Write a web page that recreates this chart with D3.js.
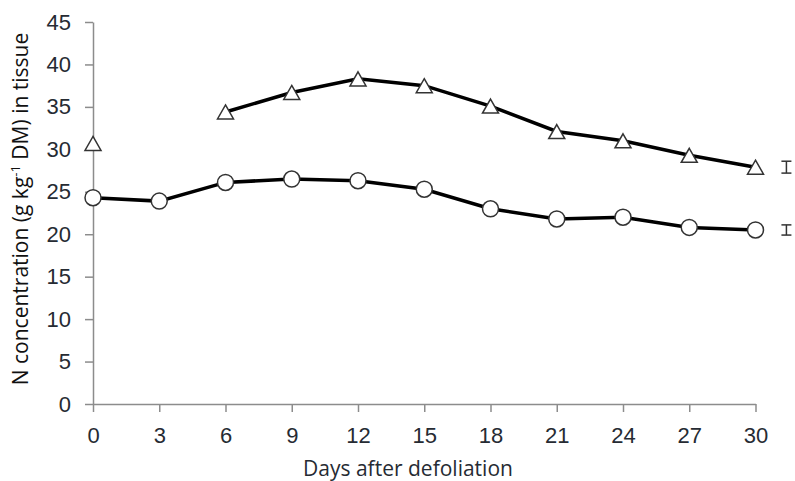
<!DOCTYPE html>
<html>
<head>
<meta charset="utf-8">
<script src="https://cdn.jsdelivr.net/npm/d3@7"></script>
<style>
  body { margin: 0; background: #fff; }
  svg { display: block; font-family: 'Open Sans', 'Noto Sans', sans-serif; }
</style>
</head>
<body>
<svg id="chart" width="795" height="481"></svg>
<script>
// Data
const days = [0, 3, 6, 9, 12, 15, 18, 21, 24, 27, 30];
const xTicks = [0, 3, 6, 9, 12, 15, 18, 21, 24, 27, 30];
const yTicks = [0, 5, 10, 15, 20, 25, 30, 35, 40, 45];
const circleValues = [24.3, 23.9, 26.1, 26.5, 26.3, 25.3, 23.0, 21.8, 22.0, 20.8, 20.5];
const triangleValues = [30.7, null, 34.4, 36.7, 38.3, 37.5, 35.1, 32.1, 31.0, 29.3, 27.9];
// LSD bars drawn to the right of the last day
const lsdDay = 31.4;
const lsdCenters = [27.9, 20.5];
const lsdHalf = [0.7, 0.6];

const dimensions = {
    width: 795,
    height: 481,
    margin: { top: 22, right: 40, bottom: 77, left: 93 },
};
const { width, height, margin } = dimensions;

const xScale = d3.scaleLinear()
    .domain([0, 30])
    .range([margin.left, 755.5]);

const yScale = d3.scaleLinear()
    .domain([0, 45])
    .range([height - margin.bottom, margin.top]);

const svg = d3.select('#chart');
const axisColor = '#8c8c8c';
const labelColor = '#262b33';

// X axis
const xAxisGroup = svg.append('g')
    .attr('transform', `translate(0, ${yScale(0)})`)
    .call(d3.axisBottom(xScale).tickValues(xTicks).tickSize(8).tickPadding(15).tickSizeOuter(0));
xAxisGroup.select('.domain').attr('stroke', axisColor).attr('stroke-width', 1.5);
xAxisGroup.selectAll('line').attr('stroke', axisColor).attr('stroke-width', 1.5);
xAxisGroup.selectAll('text')
    .attr('fill', labelColor)
    .attr('font-size', '22px');

// Y axis
const yAxisGroup = svg.append('g')
    .attr('transform', `translate(${xScale(0)}, 0)`)
    .call(d3.axisLeft(yScale).tickValues(yTicks).tickSize(8).tickPadding(14).tickSizeOuter(0));
yAxisGroup.select('.domain').attr('stroke', axisColor).attr('stroke-width', 1.5);
yAxisGroup.selectAll('line').attr('stroke', axisColor).attr('stroke-width', 1.5);
yAxisGroup.selectAll('text')
    .attr('fill', labelColor)
    .attr('font-size', '22px');

// Axis titles
svg.append('text')
    .attr('x', 408)
    .attr('y', 476)
    .attr('text-anchor', 'middle')
    .attr('fill', labelColor)
    .attr('font-size', '21px')
    .text('Days after defoliation');

const yTitle = svg.append('text')
    .attr('transform', 'translate(28, 209) rotate(-90)')
    .attr('text-anchor', 'middle')
    .attr('fill', '#111')
    .attr('font-size', '21px');
yTitle.append('tspan').text('N concentration (g kg');
yTitle.append('tspan').attr('dy', -8).attr('font-size', '13px').text('-1');
yTitle.append('tspan').attr('dy', 8).text(' DM) in tissue');

// Lines
const line = d3.line()
    .defined((d) => d.value !== null)
    .x((d) => xScale(d.day))
    .y((d) => yScale(d.value));

const circleData = days.map((day, i) => ({ day, value: circleValues[i] }));
const triangleData = days.map((day, i) => ({ day, value: triangleValues[i] }));

// Triangle line starts from day 6 (day 0 value stands alone)
svg.append('path')
    .attr('d', line(triangleData.filter((d) => d.day >= 6)))
    .attr('fill', 'none')
    .attr('stroke', '#000')
    .attr('stroke-width', 3.5);

svg.append('path')
    .attr('d', line(circleData))
    .attr('fill', 'none')
    .attr('stroke', '#000')
    .attr('stroke-width', 3.5);

// Markers
svg.append('g')
    .selectAll('path')
    .data(triangleData.filter((d) => d.value !== null))
    .join('path')
    .attr('transform', (d) => `translate(${xScale(d.day)}, ${yScale(d.value)})`)
    .attr('d', 'M0,-7L8,7L-8,7Z')
    .attr('fill', '#fff')
    .attr('stroke', '#333')
    .attr('stroke-width', 1.5);

svg.append('g')
    .selectAll('circle')
    .data(circleData)
    .join('circle')
    .attr('cx', (d) => xScale(d.day))
    .attr('cy', (d) => yScale(d.value))
    .attr('r', 8)
    .attr('fill', '#fff')
    .attr('stroke', '#333')
    .attr('stroke-width', 1.5);

// LSD bars
const lsd = svg.append('g')
    .attr('stroke', '#333')
    .attr('stroke-width', 1.5);
lsdCenters.forEach((c, i) => {
    const x = xScale(lsdDay);
    const y1 = yScale(c + lsdHalf[i]);
    const y2 = yScale(c - lsdHalf[i]);
    lsd.append('line').attr('x1', x).attr('x2', x).attr('y1', y1).attr('y2', y2);
    lsd.append('line').attr('x1', x - 5).attr('x2', x + 5).attr('y1', y1).attr('y2', y1);
    lsd.append('line').attr('x1', x - 5).attr('x2', x + 5).attr('y1', y2).attr('y2', y2);
});
</script>
</body>
</html>
